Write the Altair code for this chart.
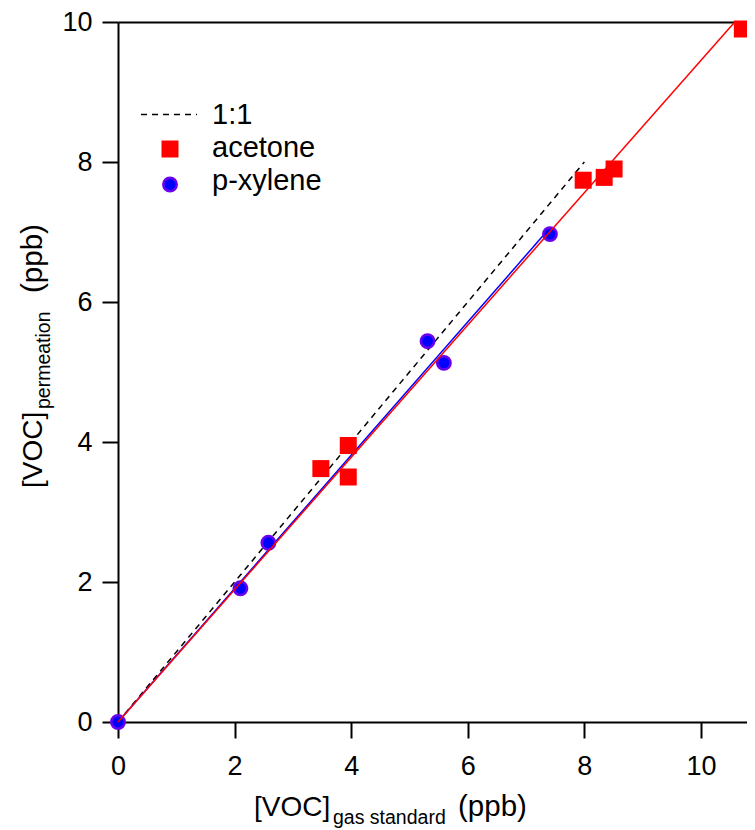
import altair as alt
import pandas as pd

# ---------------- data ----------------
acetone_x = [3.48, 3.95, 3.95, 7.98, 8.34, 8.51, 10.71]
acetone_y = [3.62, 3.95, 3.50, 7.74, 7.78, 7.90, 9.90]

xylene_x = [0.00, 2.10, 2.58, 5.31, 5.59, 7.41]
xylene_y = [0.00, 1.91, 2.56, 5.44, 5.13, 6.97]

one_to_one_x = [0, 8]
one_to_one_y = [0, 8]
acetone_fit_x = [0, 10.58]
acetone_fit_y = [0, 10.0]
xylene_fit_x = [0, 7.41]
xylene_fit_y = [0, 7.06]

x_ticks = [0, 2, 4, 6, 8, 10]
y_ticks = [0, 2, 4, 6, 8, 10]
legend_labels = ["1:1", "acetone", "p-xylene"]

FONT = "Liberation Sans, Arial, Helvetica, sans-serif"
W, H = 629, 700
X_MAX = 10.79

ace = pd.DataFrame({"x": acetone_x, "y": acetone_y})
xyl = pd.DataFrame({"x": xylene_x, "y": xylene_y})
one = pd.DataFrame({"x": one_to_one_x, "y": one_to_one_y})
afit = pd.DataFrame({"x": acetone_fit_x, "y": acetone_fit_y})
xfit = pd.DataFrame({"x": xylene_fit_x, "y": xylene_fit_y})

xscale = alt.Scale(domain=[0, X_MAX], nice=False, zero=False)
yscale = alt.Scale(domain=[0, 10], nice=False, zero=False)

bottom_axis = alt.Axis(values=x_ticks, title=None, labelFlush=False,
                       labelOverlap=False, labelPadding=15, grid=False)
top_axis = alt.Axis(orient="top", labels=False, ticks=False, title=None,
                    grid=False, domain=True)
left_axis = alt.Axis(values=y_ticks, title=None, labelOverlap=False,
                     labelPadding=10, grid=False, orient="left")


def enc(axis_x=None):
    return dict(
        x=alt.X("x:Q", scale=xscale, axis=axis_x),
        y=alt.Y("y:Q", scale=yscale, axis=left_axis),
    )


dash_line = alt.Chart(one).mark_line(color="black", strokeWidth=1.5,
                                     strokeDash=[6, 5]).encode(**enc(top_axis))
blue_line = alt.Chart(xfit).mark_line(color="#0000ff", strokeWidth=1.5).encode(**enc(None))
red_line = alt.Chart(afit).mark_line(color="#ff0000", strokeWidth=1.5).encode(**enc(None))
squares = alt.Chart(ace).mark_point(shape="square", filled=True, size=289,
                                    color="#ff0000", opacity=1).encode(**enc(bottom_axis))
circles = alt.Chart(xyl).mark_point(shape="circle", filled=True, size=180,
                                    fill="#0000ff", stroke="#6a00ee", strokeWidth=2.5,
                                    opacity=1).encode(**enc(None))

# ---------------- axis titles with subscripts ----------------
def txt(s, x, y, size, angle=0):
    kw = dict(align="left", baseline="alphabetic", font=FONT, fontSize=size, color="black")
    if angle:
        kw["angle"] = angle
    return alt.Chart(pd.DataFrame({"t": [s]})).mark_text(**kw).encode(
        text="t:N", x=alt.value(x), y=alt.value(y))

xt1 = txt("[VOC]", 136, 794, 28)
xt2 = txt("gas standard", 215, 802, 19.5)
xt3 = txt("(ppb)", 340, 794, 29.5)
yt1 = txt("[VOC]", -76, 466, 28, 270)
yt2 = txt("permeation", -68, 387, 19.5, 270)
yt3 = txt("(ppb)", -76, 271, 29.5, 270)

# ---------------- legend ----------------
leg_dash = alt.Chart(pd.DataFrame({"a": [0]})).mark_rule(
    color="black", strokeWidth=1.5, strokeDash=[6, 5]).encode(
    x=alt.value(23), x2=alt.value(79), y=alt.value(92.5))
leg_sq = alt.Chart(pd.DataFrame({"a": [0]})).mark_point(
    shape="square", filled=True, size=289, color="#ff0000", opacity=1).encode(
    x=alt.value(52), y=alt.value(127))
leg_ci = alt.Chart(pd.DataFrame({"a": [0]})).mark_point(
    shape="circle", filled=True, size=180, fill="#0000ff", stroke="#6a00ee",
    strokeWidth=2.5, opacity=1).encode(x=alt.value(52), y=alt.value(162.5))
lt1 = txt(legend_labels[0], 94, 102, 29)
lt2 = txt(legend_labels[1], 94, 135, 29)
lt3 = txt(legend_labels[2], 94, 168, 29)

chart = alt.layer(
    dash_line, blue_line, circles, squares, red_line,
    xt1, xt2, xt3, yt1, yt2, yt3,
    leg_dash, leg_sq, leg_ci, lt1, lt2, lt3,
).resolve_axis(x="independent").properties(
    width=W, height=H, autosize="none",
    padding={"left": 110, "top": 14, "right": 0, "bottom": 108},
).configure_view(stroke=None).configure_axis(
    labelFont=FONT, labelFontSize=27, labelColor="black",
    domainColor="black", domainWidth=2, tickColor="black", tickWidth=2,
    tickSize=16,
)

chart.save("out.html", embed_options={"renderer": "svg", "actions": False})
